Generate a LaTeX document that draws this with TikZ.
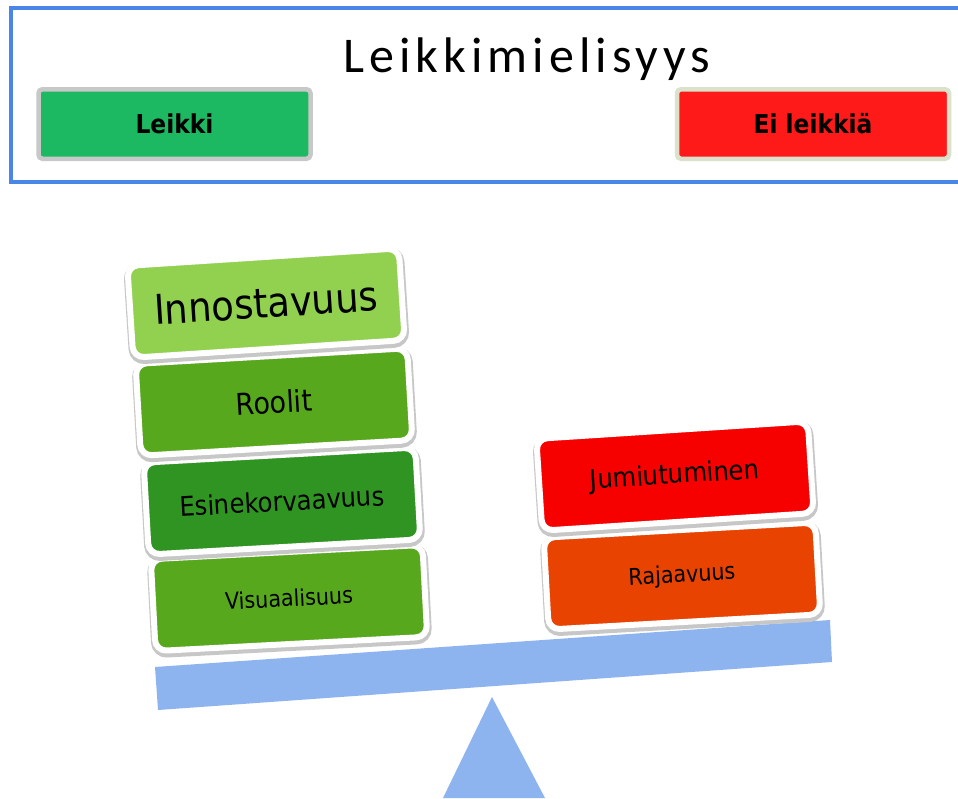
\documentclass[tikz,border=0pt]{standalone}
\usepackage{fontspec}
\newfontfamily\tahomaish{DejaVu Sans Condensed}
\newfontfamily\titlefont[LetterSpace=10]{Carlito}
\definecolor{frameblue}{HTML}{4A86E8}
\definecolor{beamblue}{HTML}{8EB4F0}
\definecolor{leikkigreen}{HTML}{1CB862}
\definecolor{leikkiedge}{HTML}{C8C8C8}
\definecolor{eired}{HTML}{FF1A1A}
\definecolor{eiedge}{HTML}{DAE2CC}
\definecolor{lightgreen}{HTML}{92D050}
\definecolor{midgreen}{HTML}{58A81E}
\definecolor{darkgreen}{HTML}{2F9422}
\definecolor{jumired}{HTML}{F70000}
\definecolor{rajaorange}{HTML}{E84300}
\tikzset{
  weight/.style={draw=white, line width=6pt, rounded corners=11pt,
    minimum width=272pt, minimum height=92pt, inner sep=0pt,
    font=\tahomaish\fontsize{#1}{#1}\selectfont,
    preaction={draw=black!22, line width=9pt,
      transform canvas={xshift=0.5pt, yshift=-2.5pt}}},
  button/.style={line width=4.5pt, rounded corners=4pt,
    minimum width=272pt, minimum height=69.5pt, inner sep=0pt,
    font=\tahomaish\bfseries\fontsize{26}{30}\selectfont}
}
\begin{document}
\begin{tikzpicture}[x=1pt, y=-1pt]
  \useasboundingbox[fill=white] (0,0) rectangle (958,798);
  % frame with the title
  \draw[frameblue, line width=4pt] (11,8) rectangle (975,182);
  \node[anchor=base, font=\titlefont\fontsize{50}{60}\selectfont]
    (title) at (527,72) {Leikkimielisyys};
  \node[button, draw=leikkiedge, fill=leikkigreen] (leikki)
    at (174.5,124) {Leikki};
  \node[button, draw=eiedge, fill=eired] (eileikki)
    at (813,124) {Ei leikkiä};
  % seesaw
  \fill[beamblue] (492,697) -- (443,798) -- (545,798) -- cycle;
  \fill[beamblue] (155,667) -- (830,620) -- (832,662) -- (158,710) -- cycle;
  % left pan
  \node[weight=23, fill=midgreen, rotate=3] (visu) at (289,598)
    {Visuaalisuus};
  \node[weight=27, fill=darkgreen, rotate=3.2] (esine) at (282,501)
    {Esinekorvaavuus};
  \node[weight=30, fill=midgreen, rotate=3.3] (roolit) at (274,402)
    {Roolit};
  \node[weight=41, fill=lightgreen, rotate=3.7] (innostus) at (266,303)
    {Innostavuus};
  % right pan
  \node[weight=23, fill=rajaorange, rotate=3.2] (raja) at (682,576)
    {Rajaavuus};
  \node[weight=27, fill=jumired, rotate=3.7] (jumi) at (675,476)
    {Jumiutuminen};
\end{tikzpicture}
\end{document}
